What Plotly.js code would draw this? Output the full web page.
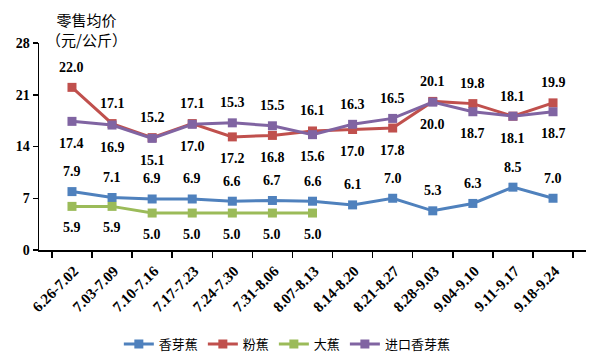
<!DOCTYPE html>
<html><head><meta charset="utf-8">
<script src="https://cdn.plot.ly/plotly-3.0.1.min.js"></script>
<style>html,body{margin:0;padding:0;background:#fff}#chart{width:600px;height:358px}</style>
</head><body><div id="chart"></div>
<script>
const categories = ["6.26-7.02","7.03-7.09","7.10-7.16","7.17-7.23","7.24-7.30","7.31-8.06","8.07-8.13","8.14-8.20","8.21-8.27","8.28-9.03","9.04-9.10","9.11-9.17","9.18-9.24"];
const xiangya = [7.9,7.1,6.9,6.9,6.6,6.7,6.6,6.1,7.0,5.3,6.3,8.5,7.0];
const fenjiao = [22.0,17.1,15.2,17.1,15.3,15.5,16.1,16.3,16.5,20.1,19.8,18.1,19.9];
const dajiao = [5.9,5.9,5.0,5.0,5.0,5.0,5.0,null,null,null,null,null,null];
const jinkou = [17.4,16.9,15.1,17.0,17.2,16.8,15.6,17.0,17.8,20.0,18.7,18.1,18.7];
const yTicks = [0,7,14,21,28];

const serif = "Liberation Serif, Times New Roman, serif";
const cjk = "Noto Sans CJK SC, sans-serif";
function tr(name, y, color){
  return {type:'scatter', mode:'lines+markers', name:name, x:categories, y:y,
    line:{color:color, width:3}, marker:{symbol:'square', size:9, color:color},
    connectgaps:false};
}
const data = [
  tr('香芽蕉', xiangya, '#4F81BD'),
  tr('粉蕉', fenjiao, '#C0504D'),
  tr('大蕉', dajiao, '#9BBB59'),
  tr('进口香芽蕉', jinkou, '#8064A2')
];
const ann = [];
const lf = {family:serif, size:14, color:'#000', weight:'bold'};
categories.forEach((c,i)=>{
  const hi = Math.max(fenjiao[i], jinkou[i]);
  const lo = Math.min(fenjiao[i], jinkou[i]);
  ann.push({x:c, y:hi, xref:'x', yref:'y', text:'<b>'+fenjiao[i].toFixed(1)+'</b>', showarrow:false, yshift:20, font:lf});
  ann.push({x:c, y:lo, xref:'x', yref:'y', text:'<b>'+jinkou[i].toFixed(1)+'</b>', showarrow:false, yshift:-22, font:lf});
  ann.push({x:c, y:xiangya[i], xref:'x', yref:'y', text:'<b>'+xiangya[i].toFixed(1)+'</b>', showarrow:false, yshift:20, font:lf});
  if (dajiao[i] !== null) ann.push({x:c, y:dajiao[i], xref:'x', yref:'y', text:'<b>'+dajiao[i].toFixed(1)+'</b>', showarrow:false, yshift:-21, font:lf});
});
ann.push({xref:'paper', yref:'paper', x:(86-39)/547, y:1+(43-30)/207, text:'零售均价<br>（元/公斤）', showarrow:false, xanchor:'center', yanchor:'middle', align:'center', font:{family:cjk, size:15, color:'#000'}});

const layout = {
  width:600, height:358,
  margin:{l:39, r:14, t:43, b:108, autoexpand:false},
  paper_bgcolor:'#fff', plot_bgcolor:'#fff',
  showlegend:true,
  legend:{orientation:'h', x:0.454, xanchor:'center', yref:'container', y:1-344/358, yanchor:'middle',
    font:{family:cjk, size:13, color:'#000'}, itemwidth:30, tracegroupgap:0},
  xaxis:{type:'category', tickson:'boundaries', ticks:'outside', ticklen:6, tickcolor:'#000', tickwidth:1.5,
    showline:true, linecolor:'#000', linewidth:1.5, showgrid:false, zeroline:false, automargin:false,
    ticklabelstandoff:5, ticklabelshift:2,
    tickangle:-45, tickfont:{family:serif, size:15, color:'#000', weight:'bold'}, fixedrange:true},
  yaxis:{range:[0,28], tickvals:yTicks, ticktext:yTicks.map(String), ticks:'outside', ticklen:5, tickcolor:'#000', tickwidth:1.5,
    showline:true, linecolor:'#000', linewidth:1.5, showgrid:false, zeroline:false, automargin:false,
    tickfont:{family:serif, size:14, color:'#000', weight:'bold'}},
  annotations:ann
};
Plotly.newPlot('chart', data, layout, {staticPlot:true, displayModeBar:false});
</script></body></html>
